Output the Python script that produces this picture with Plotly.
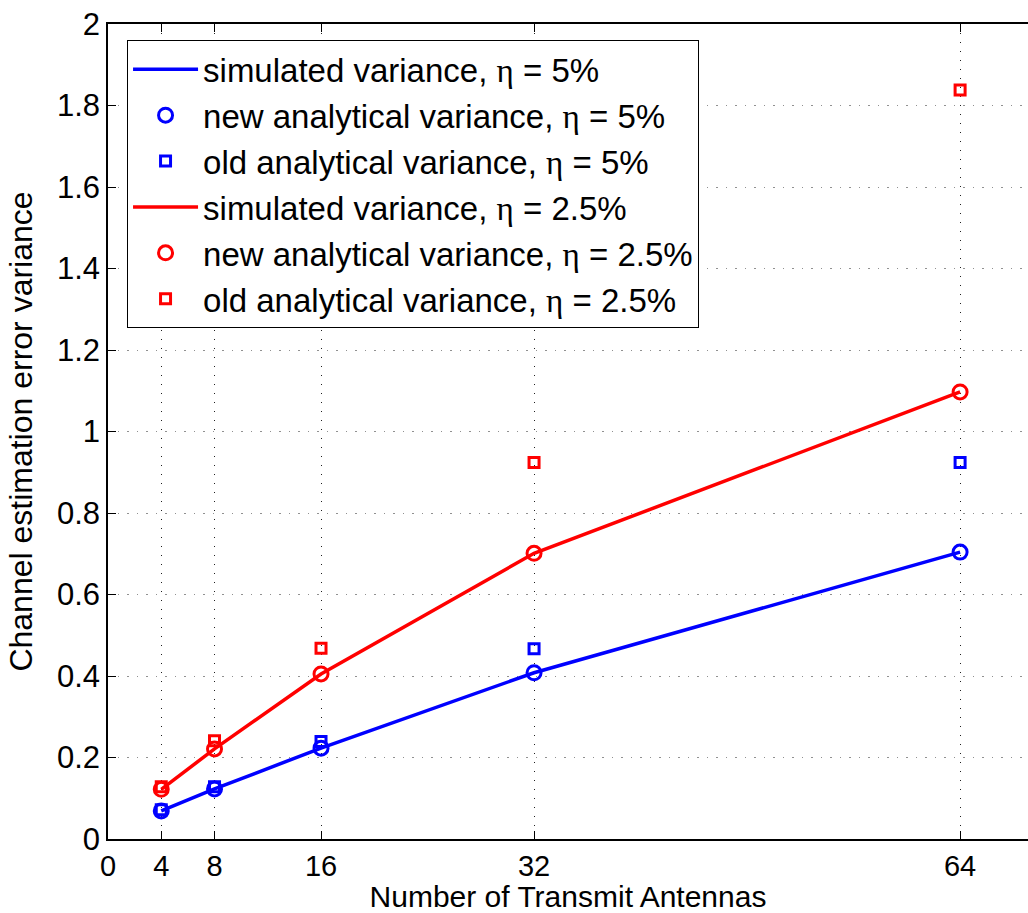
import plotly.graph_objects as go

# Number of transmit antennas
antennas = [4, 8, 16, 32, 64]

# Channel estimation error variance, eta = 5%
sim_5 = [0.069, 0.123, 0.223, 0.408, 0.704]
new_5 = [0.069, 0.123, 0.223, 0.408, 0.704]
old_5 = [0.072, 0.128, 0.239, 0.467, 0.924]

# Channel estimation error variance, eta = 2.5%
sim_25 = [0.122, 0.221, 0.405, 0.701, 1.097]
new_25 = [0.122, 0.221, 0.405, 0.701, 1.097]
old_25 = [0.128, 0.241, 0.468, 0.924, 1.838]

x_ticks = [0, 4, 8, 16, 32, 64]
y_ticks = [0, 0.2, 0.4, 0.6, 0.8, 1, 1.2, 1.4, 1.6, 1.8, 2]

BLUE = "#0000ff"
RED = "#ff0000"
ETA = "<span style='font-family:Liberation Serif'>η</span>"

fig = go.Figure()

def add_set(color, sim, new, old, label, grp):
    fig.add_trace(go.Scatter(
        x=antennas, y=sim, mode="lines",
        line=dict(color=color, width=3.5),
        name=f"simulated variance, {ETA} = {label}",
        legendgroup=grp + "a"))
    fig.add_trace(go.Scatter(
        x=antennas, y=new, mode="markers",
        marker=dict(symbol="circle-open", size=14, color=color,
                    line=dict(width=3, color=color)),
        name=f"new analytical variance, {ETA} = {label}",
        legendgroup=grp + "b"))
    fig.add_trace(go.Scatter(
        x=antennas, y=old, mode="markers",
        marker=dict(symbol="square-open", size=10, color=color,
                    line=dict(width=3, color=color)),
        name=f"old analytical variance, {ETA} = {label}",
        legendgroup=grp + "c"))

add_set(BLUE, sim_5, new_5, old_5, "5%", "g5")
add_set(RED, sim_25, new_25, old_25, "2.5%", "g25")

font_main = "Liberation Sans, Arial, sans-serif"

fig.update_layout(
    width=1028, height=913,
    margin=dict(l=108, r=0, t=24, b=74, autoexpand=False),
    paper_bgcolor="white", plot_bgcolor="white",
    font=dict(family=font_main, color="black", size=31),
    showlegend=True,
    legend=dict(
        x=0.0207, y=0.980, xanchor="left", yanchor="top",
        bgcolor="white", bordercolor="black", borderwidth=1,
        font=dict(size=33, family=font_main),
        traceorder="grouped", tracegroupgap=0,
        itemwidth=65,
    ),
    xaxis=dict(
        range=[0, 69.1], tickmode="array", tickvals=x_ticks,
        ticks="inside", ticklen=8, tickcolor="black", tickwidth=1,
        showline=True, linecolor="black", linewidth=1.5, mirror="ticks",
        showgrid=True, gridcolor="#202020", griddash="1px,8px", gridwidth=1,
        zeroline=False, automargin=False,
        title=dict(text="Number of Transmit Antennas", font=dict(size=30)),
        tickfont=dict(size=29),
    ),
    yaxis=dict(
        range=[0, 2], tickmode="array", tickvals=y_ticks,
        ticks="inside", ticklen=8, tickcolor="black", tickwidth=1,
        showline=True, linecolor="black", linewidth=1.5, mirror=False,
        showgrid=True, gridcolor="#909090", griddash="1.5px,8px", gridwidth=1,
        zeroline=False, automargin=False,
        title=dict(text="Channel estimation error variance",
                   font=dict(size=32)),
        tickfont=dict(size=31),
    ),
)

fig.write_html("out.html")
